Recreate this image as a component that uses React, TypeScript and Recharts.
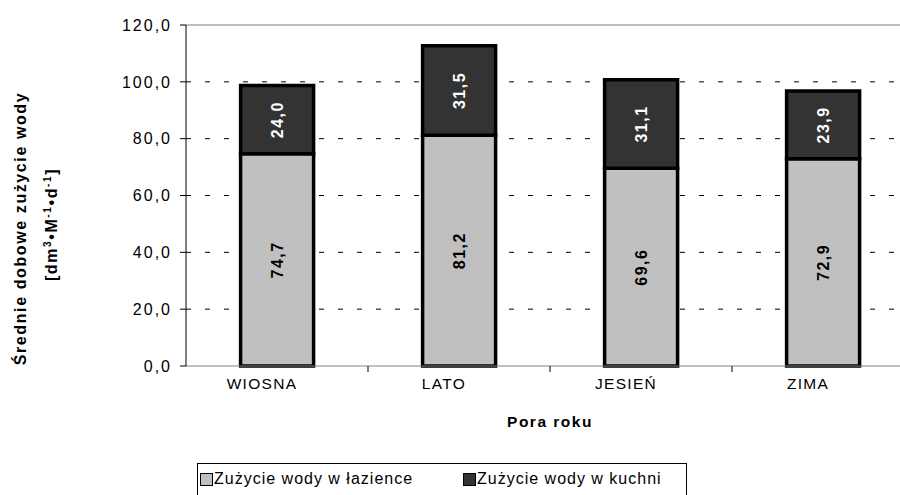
import React from "react"
import { ComposedChart, Bar, XAxis, YAxis, CartesianGrid, LabelList, ReferenceLine } from "recharts"

const seasons = ["WIOSNA", "LATO", "JESIEŃ", "ZIMA"]
const bathroom = [74.7, 81.2, 69.6, 72.9]
const kitchen = [24.0, 31.5, 31.1, 23.9]
const yTicks = [0, 20, 40, 60, 80, 100, 120]

const data = seasons.map((s, i) => ({ season: s, idx: i + 0.5, bathroom: bathroom[i], kitchen: kitchen[i] }))

const FONT = "'Liberation Sans', Arial, sans-serif"
const fmt = (v: number) => v.toFixed(1).replace(".", ",")

const YTitle = (props: any) => {
  const { viewBox } = props
  const cy = viewBox.y + viewBox.height / 2 + 33
  return (
    <g fontFamily={FONT} fontWeight="bold" fontSize={16} fill="#000" style={{ letterSpacing: 1.6 }}>
      <text x={26} y={cy} textAnchor="middle" transform={`rotate(-90 26 ${cy})`}>
        Średnie dobowe zużycie wody
      </text>
      <text x={57} y={cy - 4} textAnchor="middle" transform={`rotate(-90 57 ${cy - 4})`}>
        [dm<tspan dy={-6} fontSize={10}>3</tspan><tspan dy={6}>•M</tspan><tspan dy={-6} fontSize={10}>-1</tspan><tspan dy={6}>•d</tspan><tspan dy={-6} fontSize={10}>-1</tspan><tspan dy={6}>]</tspan>
      </text>
    </g>
  )
}

const InBarLabel = (color: string) => (props: any) => {
  const { x, y, width, height, value } = props
  const cx = x + width / 2
  const cy = y + height / 2
  return (
    <text x={cx} y={cy} fill={color} fontFamily={FONT} fontWeight="bold" fontSize={16}
      textAnchor="middle" dominantBaseline="central" transform={`rotate(-90 ${cx} ${cy})`}
      style={{ letterSpacing: 1.5 }}>
      {fmt(value)}
    </text>
  )
}

const EdgeTick = (props: any) => {
  const { x } = props
  return <line x1={x} y1={366} x2={x} y2={372} stroke="#000" />
}

export default function App() {
  return (
    <div style={{ position: "absolute", left: 0, top: 0, width: 900, height: 495, overflow: "hidden", background: "#fff" }}>
      <ComposedChart width={960} height={495} data={data}
        margin={{ top: 25, right: 46, left: 0, bottom: 99 }} barCategoryGap="30%">
        <CartesianGrid vertical={false} stroke="#000" strokeDasharray="5 14" horizontalValues={[20, 40, 60, 80, 100]} />
        <ReferenceLine y={120} xAxisId="cat" stroke="#808080" strokeWidth={1} />
        <XAxis xAxisId="edges" type="number" dataKey="idx" domain={[0, 4]} ticks={[1, 2, 3]} tick={<EdgeTick />}
          axisLine={false} tickLine={false} tickSize={0} height={1} allowDataOverflow />
        <XAxis dataKey="season" xAxisId="cat" interval={0} tickLine={false} axisLine={{ stroke: "#808080" }}
          height={29} tick={{ fontFamily: FONT, fontSize: 15.5, fill: "#000", dx: -15, dy: 4, style: { letterSpacing: 1.3 } } as any}
          label={{ value: "Pora roku", position: "insideBottom", offset: -32, fontFamily: FONT, fontWeight: "bold", fontSize: 15.5, fill: "#000", style: { letterSpacing: 1.5 } } as any} />
        <YAxis width={186} domain={[0, 120]} ticks={yTicks} interval={0} tickFormatter={fmt}
          axisLine={{ stroke: "#000" }} tickLine={{ stroke: "#000" }} tickSize={6}
          tick={{ fontFamily: FONT, fontSize: 16, fill: "#000", dx: -6, style: { letterSpacing: 2 } } as any}
          label={{ content: YTitle } as any} />
        <Bar dataKey="bathroom" xAxisId="cat" stackId="a" fill="#c0c0c0" stroke="#000" strokeWidth={3.5} isAnimationActive={false}>
          <LabelList dataKey="bathroom" content={InBarLabel("#000")} />
        </Bar>
        <Bar dataKey="kitchen" xAxisId="cat" stackId="a" fill="#333333" stroke="#000" strokeWidth={3.5} isAnimationActive={false}>
          <LabelList dataKey="kitchen" content={InBarLabel("#fff")} />
        </Bar>
      </ComposedChart>
      <div style={{ position: "absolute", left: 197, top: 463, width: 490, height: 60, border: "1px solid #000", boxSizing: "border-box", fontFamily: FONT, fontSize: 16, letterSpacing: 1, display: "flex", paddingTop: 5, paddingLeft: 2 }}>
        <div style={{ width: 263, display: "flex", alignItems: "center", height: 20 }}>
          <span style={{ display: "inline-block", width: 11, height: 11, background: "#c0c0c0", border: "1px solid #000", marginRight: 1 }} />
          Zużycie wody w łazience
        </div>
        <div style={{ display: "flex", alignItems: "center", height: 20 }}>
          <span style={{ display: "inline-block", width: 11, height: 11, background: "#333", border: "1px solid #000", marginRight: 1 }} />
          Zużycie wody w kuchni
        </div>
      </div>
    </div>
  )
}
